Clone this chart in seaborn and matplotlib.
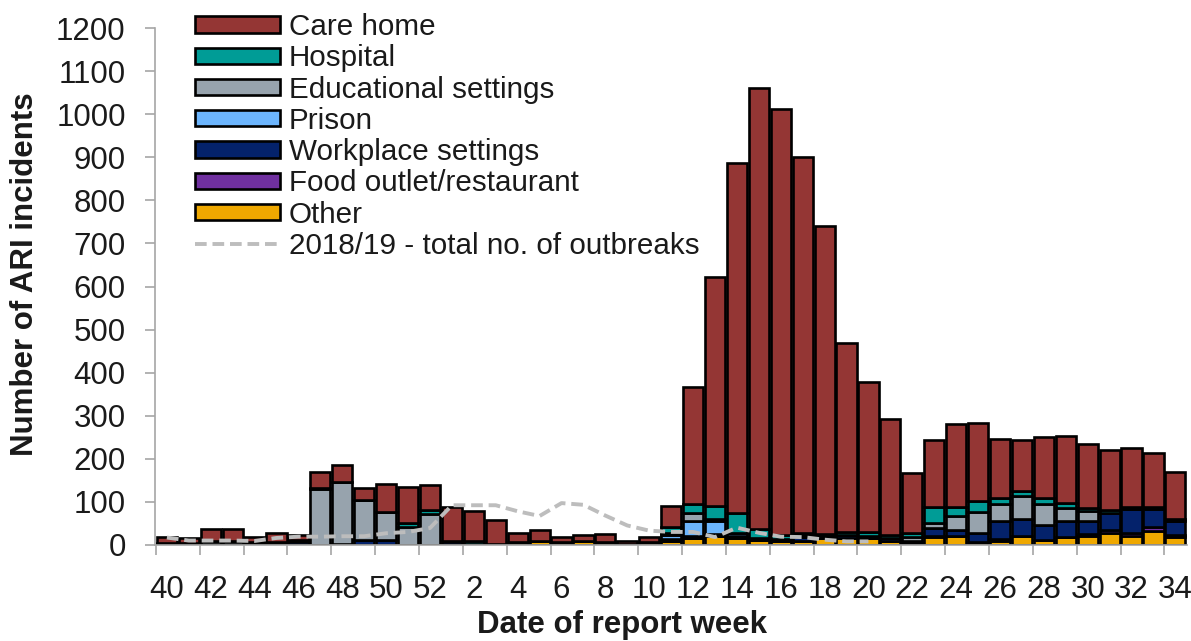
"""Stacked weekly ARI incidents by setting, with the 2018/19 total as a dashed line."""

import matplotlib

matplotlib.use("Agg")

import pandas as pd
import seaborn as sns
from matplotlib import pyplot as plt
from matplotlib.lines import Line2D
from matplotlib.patches import Patch

weeks = list(range(40, 53)) + list(range(1, 35))
tick_labels = [str(w) for w in weeks[::2]]

settings = [
    "Care home",
    "Hospital",
    "Educational settings",
    "Prison",
    "Workplace settings",
    "Food outlet/restaurant",
    "Other",
]
colors = ["#943634", "#009c96", "#97a3ad", "#6cb5fd", "#04226b", "#7030a0", "#efa800"]

care_home = [14, 10, 28, 28, 12, 22, 10, 36, 38, 28, 65, 85, 58,
             80, 68, 55, 22, 25, 13, 16, 18, 5, 12, 48, 272, 532, 813, 1023, 990, 872,
             715, 437, 347, 268, 140, 155, 192, 182, 138, 120, 141, 155, 148, 140, 138,
             125, 110]
hospital = [0, 0, 0, 0, 0, 0, 0, 3, 0, 0, 0, 8, 10,
            0, 8, 0, 0, 0, 0, 0, 0, 0, 0, 15, 20, 30, 45, 20, 10, 5,
            0, 8, 10, 8, 8, 38, 22, 25, 13, 10, 13, 13, 8, 7, 4,
            5, 4]
educational = [3, 4, 6, 6, 4, 4, 4, 130, 145, 93, 65, 42, 72,
               0, 0, 0, 0, 0, 0, 0, 0, 0, 0, 5, 20, 5, 0, 0, 0, 5,
               5, 0, 0, 0, 10, 12, 32, 48, 40, 54, 50, 30, 22, 0, 0,
               0, 0]
prison = [0, 0, 0, 0, 0, 0, 0, 0, 0, 0, 0, 0, 0,
          0, 0, 0, 0, 0, 0, 0, 0, 0, 0, 8, 35, 30, 8, 0, 0, 0,
          0, 0, 0, 0, 0, 0, 0, 0, 0, 0, 0, 0, 0, 0, 0,
          0, 0]
workplace = [0, 0, 0, 0, 0, 0, 6, 0, 2, 11, 12, 0, 0,
             5, 0, 0, 0, 0, 0, 0, 0, 0, 0, 4, 5, 5, 5, 5, 5, 8,
             5, 8, 6, 6, 4, 18, 14, 22, 42, 40, 34, 36, 30, 38, 55,
             42, 32]
food_outlet = [0, 0, 0, 0, 0, 0, 0, 0, 0, 0, 0, 0, 0,
               0, 0, 0, 0, 0, 0, 0, 0, 0, 0, 2, 0, 0, 0, 0, 0, 0,
               0, 0, 0, 0, 0, 3, 0, 0, 3, 0, 0, 0, 6, 8, 8,
               8, 5]
other = [2, 1, 2, 2, 2, 2, 2, 0, 0, 0, 0, 0, 0,
         3, 2, 3, 6, 10, 6, 8, 7, 3, 6, 8, 15, 20, 15, 12, 8, 10,
         15, 15, 15, 10, 5, 18, 20, 6, 10, 20, 12, 19, 20, 27, 20,
         33, 18]

# 2018/19 season total, week 40 to week 20
prev_season = [17, 10, 10, 10, 9, 16, 19, 19, 20, 20, 27, 30, 39,
               92, 92, 92, 78, 67, 97, 93, 68, 45, 33, 30, 30, 18, 40, 28, 19, 18,
               12, 8, 8]

series = [care_home, hospital, educational, prison, workplace, food_outlet, other]
rows = []
for name, values in zip(settings, series):
    for pos, value in enumerate(values):
        rows.append({"pos": pos, "setting": name, "count": value})
frame = pd.DataFrame(rows)

plt.rcParams["font.family"] = ["Liberation Sans", "DejaVu Sans"]
text_color = "#1a1a1a"
spine_color = "#a6a6a6"
line_style = (0, (3.0, 1.5))

fig = plt.figure(figsize=(11.91, 6.41), dpi=100)
ax = fig.add_axes([0.130, 0.150, 0.867, 0.806])

sns.histplot(
    data=frame, x="pos", weights="count", hue="setting", hue_order=settings,
    palette=colors, multiple="stack", discrete=True, shrink=0.92,
    edgecolor="black", linewidth=1.9, alpha=1, legend=False, ax=ax,
)
sns.lineplot(
    x=list(range(len(prev_season))), y=prev_season, color="#bdbdbd",
    linewidth=2.8, linestyle=line_style, ax=ax,
)

ax.set_xlim(-0.55, len(weeks) - 0.45)
ax.set_ylim(0, 1200)
ax.set_yticks(range(0, 1201, 100))
ax.set_xticks(range(0, len(weeks), 2))
ax.set_xticklabels(tick_labels)
ax.set_xticks([p - 0.5 for p in range(0, len(weeks) + 1, 2)], minor=True)
ax.tick_params(axis="x", which="major", length=0, pad=22, labelsize=22.5, labelcolor=text_color)
ax.tick_params(axis="x", which="minor", length=7, width=1.2, color=spine_color)
ax.tick_params(axis="y", length=7, width=1.2, color=spine_color, pad=14,
               labelsize=22.5, labelcolor=text_color)

for side in ["top", "right"]:
    ax.spines[side].set_visible(False)
for side in ["left", "bottom"]:
    ax.spines[side].set_color(spine_color)
    ax.spines[side].set_linewidth(1.2)

ax.set_xlabel("Date of report week", fontsize=22.5, fontweight="bold", color=text_color)
ax.set_ylabel("Number of ARI incidents", fontsize=22.5, fontweight="bold", color=text_color)
ax.xaxis.set_label_coords(0.4525, -0.155)
ax.xaxis.label.set_va("center")
ax.yaxis.set_label_coords(-0.126, 0.524)
ax.yaxis.label.set_va("center")

handles = [Patch(facecolor=c, edgecolor="black", linewidth=1.9) for c in colors]
handles.append(Line2D([0], [0], color="#bdbdbd", linewidth=2.8, linestyle=line_style))
labels = settings + ["2018/19 - total no. of outbreaks"]
fig.legend(
    handles, labels, loc="upper left", bbox_to_anchor=(195 / 1191, 1 - 13 / 641),
    frameon=False, fontsize=21.3, borderpad=0, borderaxespad=0, handlelength=2.87,
    handleheight=0.47, handletextpad=0.3, labelspacing=0.11, labelcolor=text_color,
)

fig.savefig("out.png", dpi=100)
plt.close(fig)
